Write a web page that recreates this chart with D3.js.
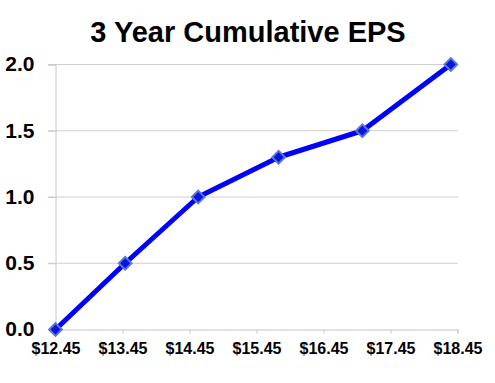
<!DOCTYPE html>
<html><head><meta charset="utf-8">
<script src="https://cdn.jsdelivr.net/npm/d3@7"></script>
<style>body{margin:0;background:#fff}svg{display:block}</style>
</head><body>
<svg id="c" width="495" height="383"></svg>
<script>
const title = "3 Year Cumulative EPS";
const prices = [12.45, 13.49, 14.58, 15.78, 17.03, 18.35];
const eps = [0, 0.5, 1.0, 1.3, 1.5, 2.0];
const xTicks = [12.45, 13.45, 14.45, 15.45, 16.45, 17.45, 18.45];
const yTicks = [0, 0.5, 1.0, 1.5, 2.0];

const svg = d3.select("#c");
const x = d3.scaleLinear().domain([12.45, 18.45]).range([55.5, 457.5]);
const y = d3.scaleLinear().domain([0, 2]).range([329.5, 64.5]);
const font = "Arial, 'Liberation Sans', sans-serif";

// gridlines
svg.append("g").selectAll("line").data(yTicks.filter(d => d > 0)).join("line")
  .attr("x1", 48).attr("x2", 458).attr("y1", d => y(d)).attr("y2", d => y(d))
  .attr("stroke", "#d0d0d0").attr("stroke-width", 1);

// y axis
const ya = svg.append("g").attr("transform", "translate(55.5,0)")
  .call(d3.axisLeft(y).tickValues(yTicks).tickSize(7).tickPadding(14).tickFormat(d3.format(".1f")));
ya.select(".domain").attr("stroke", "#c8c8c8");
ya.selectAll(".tick line").attr("stroke", "#c8c8c8");
ya.selectAll("text").attr("font-family", font)
  .attr("font-weight", "bold").attr("font-size", 21).attr("fill", "#000").attr("dy", "0.3em");

// x axis
const xa = svg.append("g").attr("transform", "translate(0,329.5)")
  .call(d3.axisBottom(x).tickValues(xTicks).tickSize(4).tickPadding(9).tickFormat(d => "$" + d.toFixed(2)));
xa.select(".domain").attr("stroke", "#c8c8c8");
xa.selectAll(".tick line").attr("stroke", "#c8c8c8");
xa.selectAll("text").attr("font-family", font)
  .attr("font-weight", "bold").attr("font-size", 16).attr("fill", "#000");

// line
const pts = prices.map((p, i) => [p, eps[i]]);
svg.append("path").datum(pts)
  .attr("d", d3.line().x(d => x(d[0])).y(d => y(d[1])))
  .attr("fill", "none").attr("stroke", "#0000ff").attr("stroke-width", 5)
  .attr("stroke-linejoin", "round");

// markers
svg.append("g").selectAll("path").data(pts).join("path")
  .attr("transform", d => `translate(${x(d[0])},${y(d[1])}) rotate(45)`)
  .attr("d", "M-4.5,-4.5h9v9h-9z")
  .attr("fill", "#0a14e0").attr("stroke", "#5a78d8").attr("stroke-width", 2);

// title
svg.append("text").attr("x", 248).attr("y", 42).attr("text-anchor", "middle")
  .attr("font-family", font).attr("font-weight", "bold")
  .attr("font-size", 29).attr("fill", "#000").text(title);
</script>
</body></html>
